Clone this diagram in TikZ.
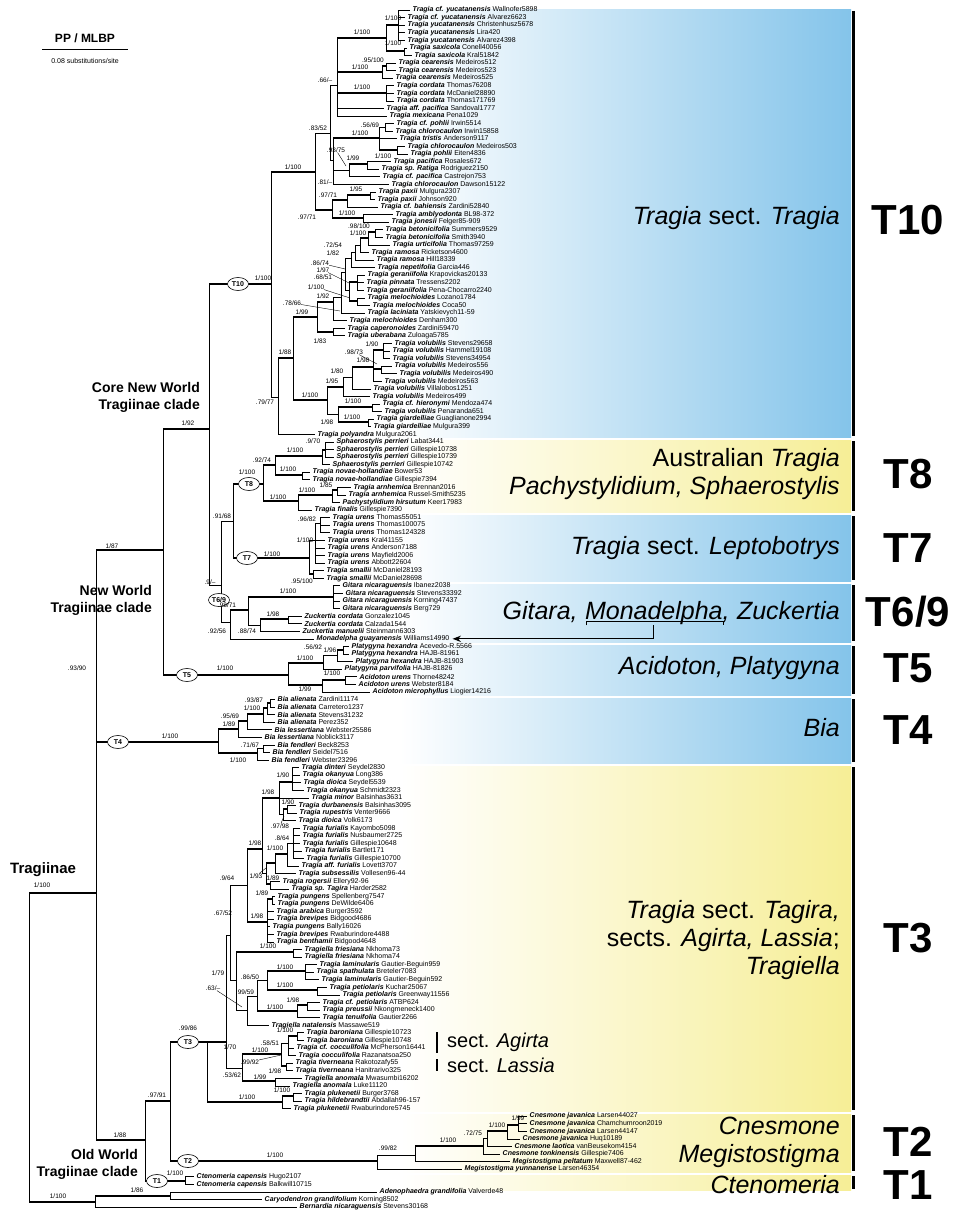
\documentclass[tikz,border=0pt]{standalone}
\usepackage{fontspec}
\setmainfont{Liberation Sans}
\usetikzlibrary{arrows.meta,shapes.geometric}
\definecolor{cladeblue}{RGB}{132,196,234}
\definecolor{cladeyellow}{RGB}{246,238,150}
\newcommand\clade[2]{\foreach \kid in {#2}{\draw[br] (#1) |- (\kid);}}

\begin{document}
\begin{tikzpicture}[x=1pt,y=-1pt,>=Stealth,
br/.style={line width=0.6pt},
bstem/.style={line width=2.8pt},
leader/.style={line width=0.4pt},
tiplab/.style={anchor=west,inner sep=0pt,font=\fontsize{7}{7.5}\selectfont},
sup/.style={inner sep=0pt,font=\fontsize{6.5}{7}\selectfont},
tnode/.style={ellipse,draw,fill=white,line width=0.6pt,inner sep=0pt,minimum width=21pt,minimum height=13pt,font=\bfseries\fontsize{7}{8}\selectfont},
grp/.style={anchor=east,inner sep=0pt,align=right,font=\fontsize{25}{28}\selectfont},
grpp/.style={anchor=base east,inner sep=0pt,font=\fontsize{25}{28}\selectfont},
sectlab/.style={anchor=west,inner sep=0pt,font=\fontsize{20}{22}\selectfont},
tlab/.style={inner sep=0pt,font=\bfseries\fontsize{42}{44}\selectfont},
cname/.style={inner sep=0pt,align=right,font=\bfseries\fontsize{14}{17}\selectfont}]

\useasboundingbox (0,0) rectangle (966,1212);

% clade bands and bars
\foreach \ya/\yb/\col in {10/437/cladeblue,440/512/cladeyellow,515/581/cladeblue,584/642/cladeblue,645/695/cladeblue,698/763/cladeblue,766/1111/cladeyellow,1114/1172/cladeyellow,1175/1190/cladeyellow}{
  \shade[left color=white,right color=\col] (400,\ya) rectangle (851,\yb);
  \draw[line width=3pt] (853,{\ya+1}) -- (853,{\yb-1});
}

% tips
\foreach \i/\x/\spn/\vch in {1/410/Tragia cf. yucatanensis/Wallnofer5898,
2/405/Tragia cf. yucatanensis/Alvarez6623,
3/405/Tragia yucatanensis/Christenhusz5678,
4/405/Tragia yucatanensis/Lira420,
5/405/Tragia yucatanensis/Alvarez4398,
6/407/Tragia saxicola/Conell40056,
7/412/Tragia saxicola/Kral51842,
8/396/Tragia cearensis/Medeiros512,
9/396/Tragia cearensis/Medeiros523,
10/393/Tragia cearensis/Medeiros525,
11/394/Tragia cordata/Thomas76208,
12/394/Tragia cordata/McDaniel28890,
13/394/Tragia cordata/Thomas171769,
14/384/Tragia aff. pacifica/Sandoval1777,
15/387/Tragia mexicana/Pena1029,
16/394/Tragia cf. pohlii/Irwin5514,
17/393/Tragia chlorocaulon/Irwin15858,
18/397/Tragia tristis/Anderson9117,
19/405/Tragia chlorocaulon/Medeiros503,
20/408/Tragia pohlii/Eiten4836,
21/391/Tragia pacifica/Rosales672,
22/379/Tragia sp. Ratiga/Rodriguez2150,
23/380/Tragia cf. pacifica/Castrejon753,
24/389/Tragia chlorocaulon/Dawson15122,
25/376/Tragia paxii/Mulgura2307,
26/375/Tragia paxii/Johnson920,
27/378/Tragia cf. bahiensis/Zardini52840,
28/393/Tragia amblyodonta/BL98-372,
29/389/Tragia jonesii/Felger85-909,
30/383/Tragia betonicifolia/Summers9529,
31/383/Tragia betonicifolia/Smith3940,
32/390/Tragia urticifolia/Thomas97259,
33/369/Tragia ramosa/Ricketson4600,
34/374/Tragia ramosa/Hill18339,
35/375/Tragia nepetifolia/Garcia446,
36/365/Tragia geraniifolia/Krapovickas20133,
37/364/Tragia pinnata/Tressens2202,
38/364/Tragia geraniifolia/Pena-Chocarro2240,
39/365/Tragia melochioides/Lozano1784,
40/370/Tragia melochioides/Coca50,
41/365/Tragia laciniata/Yatskievych11-59,
42/347/Tragia melochioides/Denham300,
43/345/Tragia caperonoides/Zardini59470,
44/345/Tragia uberabana/Zuloaga5785,
45/392/Tragia volubilis/Stevens29658,
46/390/Tragia volubilis/Hammel19108,
47/390/Tragia volubilis/Stevens34954,
48/392/Tragia volubilis/Medeiros556,
49/397/Tragia volubilis/Medeiros490,
50/382/Tragia volubilis/Medeiros563,
51/371/Tragia volubilis/Villalobos1251,
52/370/Tragia volubilis/Medeiros499,
53/380/Tragia cf. hieronymi/Mendoza474,
54/382/Tragia volubilis/Penaranda651,
55/374/Tragia giardelliae/Guaglianone2994,
56/371/Tragia giardelliae/Mulgura399,
57/315/Tragia polyandra/Mulgura2061,
58/334/Sphaerostylis perrieri/Labat3441,
59/334/Sphaerostylis perrieri/Gillespie10738,
60/334/Sphaerostylis perrieri/Gillespie10739,
61/330/Sphaerostylis perrieri/Gillespie10742,
62/310/Tragia novae-hollandiae/Bower53,
63/310/Tragia novae-hollandiae/Gillespie7394,
64/351/Tragia arnhemica/Brennan2016,
65/346/Tragia arnhemica/Russel-Smith5235,
66/340/Pachystylidium hirsutum/Keer17983,
67/312/Tragia finalis/Gillespie7390,
68/330/Tragia urens/Thomas55051,
69/330/Tragia urens/Thomas100075,
70/330/Tragia urens/Thomas124328,
71/325/Tragia urens/Kral41155,
72/325/Tragia urens/Anderson7188,
73/325/Tragia urens/Mayfield2006,
74/325/Tragia urens/Abbott22604,
75/324/Tragia smallii/McDaniel28193,
76/324/Tragia smallii/McDaniel28698,
77/340/Gitara nicaraguensis/Ibanez2038,
78/343/Gitara nicaraguensis/Stevens33392,
79/340/Gitara nicaraguensis/Korning47437,
80/340/Gitara nicaraguensis/Berg729,
81/302/Zuckertia cordata/Gonzalez1045,
82/302/Zuckertia cordata/Calzada1544,
83/300/Zuckertia manuelii/Steinmann6303,
84/314/Monadelpha guayanensis/Williams14990,
85/349/Platygyna hexandra/Acevedo-R.5566,
86/349/Platygyna hexandra/HAJB-81961,
87/353/Platygyna hexandra/HAJB-81903,
88/342/Platygyna parvifolia/HAJB-81826,
89/357/Acidoton urens/Thorne48242,
90/356/Acidoton urens/Webster8184,
91/370/Acidoton microphyllus/Liogier14216,
92/275/Bia alienata/Zardini11174,
93/275/Bia alienata/Carretero1237,
94/275/Bia alienata/Stevens31232,
95/275/Bia alienata/Perez352,
96/272/Bia lessertiana/Webster25586,
97/262/Bia lessertiana/Noblick3117,
98/275/Bia fendleri/Beck8253,
99/270/Bia fendleri/Seidel7516,
100/269/Bia fendleri/Webster23296,
101/299/Tragia dinteri/Seydel2830,
102/300/Tragia okanyua/Long386,
103/301/Tragia dioica/Seydel5539,
104/304/Tragia okanyua/Schmidt2323,
105/309/Tragia minor/Balsinhas3631,
106/296/Tragia durbanensis/Balsinhas3095,
107/297/Tragia rupestris/Venter9666,
108/296/Tragia dioica/Volk6173,
109/300/Tragia furialis/Kayombo5098,
110/300/Tragia furialis/Nusbaumer2725,
111/300/Tragia furialis/Gillespie10648,
112/302/Tragia furialis/Bartlet171,
113/304/Tragia furialis/Gillespie10700,
114/299/Tragia aff. furialis/Lovett3707,
115/296/Tragia subsessilis/Vollesen96-44,
116/280/Tragia rogersii/Ellery92-96,
117/289/Tragia sp. Tagira/Harder2582,
118/275/Tragia pungens/Spellenberg7547,
119/275/Tragia pungens/DeWilde6406,
120/274/Tragia arabica/Burger3592,
121/274/Tragia brevipes/Bidgood4686,
122/270/Tragia pungens/Bally16026,
123/274/Tragia brevipes/Rwaburindore4488,
124/274/Tragia benthamii/Bidgood4648,
125/302/Tragiella friesiana/Nkhoma73,
126/302/Tragiella friesiana/Nkhoma74,
127/317/Tragia laminularis/Gautier-Beguin959,
128/314/Tragia spathulata/Breteler7083,
129/319/Tragia laminularis/Gautier-Beguin592,
130/327/Tragia petiolaris/Kuchar25067,
131/340/Tragia petiolaris/Greenway11556,
132/320/Tragia cf. petiolaris/ATBP624,
133/320/Tragia preussii/Nkongmeneck1400,
134/320/Tragia tenuifolia/Gautier2266,
135/269/Tragiella natalensis/Massawe519,
136/304/Tragia baroniana/Gillespie10723,
137/304/Tragia baroniana/Gillespie10748,
138/294/Tragia cf. cocculifolia/McPherson16441,
139/296/Tragia cocculifolia/Razanatsoa250,
140/293/Tragia tiverneana/Rakotozafy55,
141/293/Tragia tiverneana/Hanitrarivo325,
142/302/Tragiella anomala/Mwasumbi16202,
143/290/Tragiella anomala/Luke11120,
144/302/Tragia plukenetii/Burger3768,
145/302/Tragia hildebrandtii/Abdallah96-157,
146/291/Tragia plukenetii/Rwaburindore5745,
147/527/Cnesmone javanica/Larsen44027,
148/527/Cnesmone javanica/Chamchumroon2019,
149/527/Cnesmone javanica/Larsen44147,
150/520/Cnesmone javanica/Huq10189,
151/512/Cnesmone laotica/vanBeusekom4154,
152/500/Cnesmone tonkinensis/Gillespie7406,
153/510/Megistostigma peltatum/Maxwell87-462,
154/462/Megistostigma yunnanense/Larsen46354,
155/194/Ctenomeria capensis/Hugo2107,
156/194/Ctenomeria capensis/Balkwill10715,
157/377/Adenophaedra grandifolia/Valverde48,
158/262/Caryodendron grandifolium/Korning8502,
159/297/Bernardia nicaraguensis/Stevens30168}{
  \coordinate (t\i) at (\x,{10+7.576*(\i-1)});
  \node[tiplab] (l\i) at ([xshift=2.5pt]t\i) {\textbf{\textit{\spn}}~\vch};
}

% internal nodes
\foreach \n/\x/\y in {ny1/398/25,ny2/404/51,ny3/386/38,nc1/386/66,nc2/382/72,nco/386/93,nB/337/85,
np1/385/127,np3/397/150,np/379/138,npa1/367/164,npa/349/170,n81/333/160,n83/330/133,
npx1/370/195,npx/347/200,nam/363/218,n97b/332/210,nX/315/172,
nbe1/375/232,nbe2/368/238,na1/360/245,na2/355/252,na3/351/258,nger/357/282,nmel/357/301,
n97/349/290,n86/345/272,n78/341/297,n92/333/302,n83b/333/332,n99/317/317,
n90/383/350,n98c/381/369,n98b/373/367,n80/352/377,n95/343/387,nhi/372/407,ngi/368/422,
n98d/338/414,nvol/327/400,n88/293/358,n79/278/397,nT10/271/284,
ns3/325/450,nsph/322/456,nnov/302/475,n92b/275/465,narn/337/490,npac/332/495,nfin/298/501,nT8/263/484,
n96/320/523,nu/315/540,nsm/313/574,nT7/309/558,n91/233/521,
ngit/333/597,nzc/288/619,n88z/260/625,n98/248/610,nT69/230/622,n9/221/585,ncore/209/429,
n96p/343/650,n56/337/655,nplat/323/663,naci/345/680,nacid/322/685,nT5/288/675,nNW/163/550,
nb93/270/703,nb100/267/708,nali/263/714,nb95/247/721,nb89/238/729,nb71/263/748,nfen/257/753,nT4/218/742,nNT/96/672,
n90a/292/782,ndr/287/809,n97c/283/814,n98e/279/798,nfur/293/843,n100f/287/854,nsubs/275/863,nrog/270/884,
n93f/266/873,n98f/262/849,npu/272/899,n98g/267/922,n9b/247/885,nfri/293/952,nlam/305/971,npet/317/990,
n86c/267/980,n98h/307/1005,n100h/297/1011,n99c/257/996,n63/247/1010,n79b/236/980,n67/230/935,
nbar/297/1036,n58/288/1043,ntiv/286/1066,n100k/281/1054,nano/275/1081,n53/242/1068,n70/226/1042,
npk2/293/1096,nplk/282/1102,nT3/207/1042,
n99j/518/1125,n100j/507/1131,n72j/487/1138,nCn/483/1146,nm/415/1155,nT2/377/1161,
n97o/170/1101,nT1/185/1181,nOW/145/1140,nTrag/96/893,nAC/170/1196,nout/95/1202,nroot/29/1050}
  \coordinate (\n) at (\x,\y);

% branches
\clade{ny1}{t1,t2,t3,t4,t5} \clade{ny2}{t6,t7} \clade{ny3}{ny1,ny2}
\clade{nc1}{t8,t9} \clade{nc2}{nc1,t10} \clade{nco}{t11,t12,t13}
\clade{nB}{ny3,nc2,nco,t14,t15}
\clade{np1}{t16,t17} \clade{np3}{t19,t20} \clade{np}{np1,t18,np3}
\clade{npa1}{t21,t22} \clade{npa}{npa1,t23} \clade{n81}{np,npa,t24} \clade{n83}{nB,n81}
\clade{npx1}{t25,t26} \clade{npx}{npx1,t27} \clade{nam}{t28,t29} \clade{n97b}{npx,nam}
\clade{nX}{n83,n97b}
\clade{nbe1}{t30,t31} \clade{nbe2}{nbe1,t32} \clade{na1}{nbe2,t33} \clade{na2}{na1,t34} \clade{na3}{na2,t35}
\clade{nger}{t36,t37,t38} \clade{nmel}{t39,t40} \clade{n97}{nger,nmel} \clade{n86}{na3,n97}
\clade{n78}{n86,t41} \clade{n92}{n78,t42} \clade{n83b}{t43,t44} \clade{n99}{n92,n83b}
\clade{n90}{t45,t46,t47} \clade{n98c}{t48,t49} \clade{n98b}{n90,n98c,t50} \clade{n80}{n98b,t51}
\clade{n95}{n80,t52} \clade{nhi}{t53,t54} \clade{ngi}{t55,t56} \clade{n98d}{nhi,ngi}
\clade{nvol}{n95,n98d} \clade{n88}{n99,nvol} \clade{n79}{n88,t57} \clade{nT10}{nX,n79}
\clade{ns3}{t58,t59,t60} \clade{nsph}{ns3,t61} \clade{nnov}{t62,t63} \clade{n92b}{nsph,nnov}
\clade{narn}{t64,t65} \clade{npac}{narn,t66} \clade{nfin}{npac,t67} \clade{nT8}{n92b,nfin}
\clade{n96}{t68,t69,t70} \clade{nu}{n96,t71,t72,t73,t74} \clade{nsm}{t75,t76} \clade{nT7}{nu,nsm}
\clade{n91}{nT8,nT7}
\clade{ngit}{t77,t78,t79,t80} \clade{nzc}{t81,t82} \clade{n88z}{nzc,t83} \clade{n98}{ngit,n88z}
\clade{nT69}{n98,t84} \clade{n9}{n91,nT69} \clade{ncore}{nT10,n9}
\clade{n96p}{t85,t86} \clade{n56}{n96p,t87} \clade{nplat}{n56,t88} \clade{naci}{t89,t90}
\clade{nacid}{naci,t91} \clade{nT5}{nplat,nacid} \clade{nNW}{ncore,nT5}
\clade{nb93}{t92,t93} \clade{nb100}{nb93,t94} \clade{nali}{nb100,t95} \clade{nb95}{nali,t96}
\clade{nb89}{nb95,t97} \clade{nb71}{t98,t99} \clade{nfen}{nb71,t100} \clade{nT4}{nb89,nfen}
\clade{nNT}{nNW,nT4}
\clade{n90a}{t101,t102,t103,t104} \clade{ndr}{t106,t107} \clade{n97c}{ndr,t108}
\clade{n98e}{n90a,t105,n97c} \clade{nfur}{t109,t110,t111,t112,t113} \clade{n100f}{nfur,t114}
\clade{nsubs}{n100f,t115} \clade{nrog}{t116,t117} \clade{n93f}{nsubs,nrog} \clade{n98f}{n98e,n93f}
\clade{npu}{t118,t119} \clade{n98g}{npu,t120,t121,t122,t123,t124} \clade{n9b}{n98f,n98g}
\clade{nfri}{t125,t126} \clade{nlam}{t127,t128,t129} \clade{npet}{t130,t131} \clade{n86c}{nlam,npet}
\clade{n98h}{t132,t133} \clade{n100h}{n98h,t134} \clade{n99c}{n86c,n100h} \clade{n63}{n99c,t135}
\clade{n79b}{nfri,n63} \clade{n67}{n9b,n79b}
\clade{nbar}{t136,t137} \clade{n58}{nbar,t138,t139} \clade{ntiv}{t140,t141} \clade{n100k}{n58,ntiv}
\clade{nano}{t142,t143} \clade{n53}{n100k,nano} \clade{n70}{n67,n53}
\clade{npk2}{t144,t145} \clade{nplk}{npk2,t146} \clade{nT3}{n70,nplk}
\clade{n99j}{t147,t148,t149} \clade{n100j}{n99j,t150} \clade{n72j}{n100j,t151} \clade{nCn}{n72j,t152}
\clade{nm}{nCn,t153} \clade{nT2}{nm,t154} \clade{n97o}{nT3,nT2}
\clade{nT1}{t155,t156} \clade{nOW}{n97o,nT1} \clade{nTrag}{nNT,nOW}
\clade{nAC}{t157,t158} \clade{nout}{nAC,t159} \clade{nroot}{nTrag,nout}

% well supported stems
\foreach \p/\c in {ny3/ny1,ny3/ny2,nc2/nc1,nB/ny3,nB/nc2,nB/nco,n81/np,np/np3,npa/npa1,nX/n97b,
n97b/npx,n97b/nam,npx/npx1,nT10/nX,nbe2/nbe1,na1/nbe2,n97/nger,n97/nmel,n99/n92,n99/n83b,
n88/n99,n88/nvol,n79/n88,n98b/n90,n98b/n98c,n80/n98b,nvol/n95,n98d/nhi,n98d/ngi,ncore/nT10,
nsph/ns3,n92b/nsph,n92b/nnov,nT8/n92b,nT8/nfin,nfin/npac,npac/narn,n91/nT8,n91/nT7,nT7/nsm,
n98/ngit,n88z/nzc,nT69/n98,nNW/ncore,n56/n96p,nT5/nplat,nT5/nacid,nacid/naci,nNW/nT5,nNT/nNW,
nb100/nb93,nali/nb100,nb95/nali,nb89/nb95,nT4/nb89,nT4/nfen,nNT/nT4,
n98e/n90a,n97c/ndr,n98f/n98e,nsubs/n100f,n93f/nsubs,n93f/nrog,n9b/n98f,n9b/n98g,n98g/npu,
n79b/nfri,n86c/nlam,n86c/npet,n99c/n100h,n100h/n98h,n58/nbar,n100k/ntiv,n53/n100k,n53/nano,
nT3/n70,nT3/nplk,nplk/npk2,n97o/nT3,n100j/n99j,n72j/n100j,nm/nCn,n97o/nT2,
nOW/n97o,nOW/nT1,nTrag/nOW,nroot/nTrag,nroot/nout,nout/nAC}
  \draw[bstem] (\p |- \c) -- (\c);

% clade tags
\node[tnode] (eT10) at (238,284) {T10};
\node[tnode] (eT8) at (249,484) {T8};
\node[tnode] (eT7) at (247,558) {T7};
\node[tnode] (eT69) at (219,600) {T6/9};
\node[tnode] (eT5) at (187,675) {T5};
\node[tnode] (eT4) at (118,742) {T4};
\node[tnode] (eT3) at (188,1042) {T3};
\node[tnode] (eT2) at (188,1161) {T2};
\node[tnode] (eT1) at (157,1181) {T1};

% support values
\foreach [count=\n] \x/\y/\t in {393/18/{1/100},393/43/{1/100},362/32/{1/100},373/60/{.95/100},
360/67/{1/100},362/87/{1/100},325/80/{.66/--},370/125/{.56/69},360/133/{1/100},383/156/{1/100},
318/128/{.83/52},336/150/{.93/75},353/158/{1/99},325/182/{.81/--},293/167/{1/100},356/189/{1/95},
328/195/{.97/71},347/213/{1/100},307/217/{.97/71},359/226/{.98/100},358/233/{1/100},333/245/{.72/54},
333/253/{1/82},320/263/{.86/74},323/270/{1/97},323/277/{.68/51},316/287/{1/100},292/303/{.78/66},
323/296/{1/92},302/312/{1/99},320/341/{1/83},285/352/{1/88},372/344/{1/90},354/352/{.98/73},
363/360/{1/98},337/371/{1/80},332/381/{1/95},310/395/{1/100},353/401/{1/100},265/402/{.79/77},
352/417/{1/100},327/422/{1/98},263/278/{1/100},188/423/{1/92},
313/441/{.9/70},295/450/{1/100},262/460/{.92/74},288/469/{1/100},247/472/{1/100},326/485/{1/85},
307/490/{1/100},278/497/{1/100},307/519/{.96/82},222/516/{.91/68},305/540/{1/100},272/554/{1/100},
302/581/{.95/100},210/582/{.9/--},288/591/{1/100},227/605/{.98/71},273/614/{1/98},247/631/{.88/74},
217/631/{.92/56},313/647/{.56/92},330/650/{1/96},305/658/{1/100},225/668/{1/100},332/673/{1/100},
305/689/{1/99},112/546/{1/87},254/700/{.93/87},252/708/{1/100},230/716/{.95/69},229/724/{1/89},
170/736/{1/100},250/745/{.71/67},238/760/{1/100},77/668/{.93/90},
283/775/{1/90},268/792/{1/98},288/802/{1/90},280/826/{.97/98},282/838/{.8/64},255/843/{1/98},
275/848/{1/100},256/876/{1/93},273/878/{1/89},227/878/{.9/64},262/893/{1/89},223/913/{.67/52},
257/916/{1/98},268/946/{1/100},285/967/{1/100},218/973/{1/79},250/977/{.86/50},285/985/{1/100},
213/988/{.63/--},245/992/{.99/59},293/1000/{1/98},275/1007/{1/100},285/1030/{1/100},188/1028/{.99/86},
270/1043/{.58/51},230/1047/{1/70},260/1050/{1/100},250/1062/{.99/92},275/1071/{1/98},232/1075/{.53/62},
260/1077/{1/99},282/1090/{1/100},247/1097/{1/100},157/1095/{.97/91},
518/1118/{1/99},497/1125/{1/100},473/1133/{.72/75},448/1140/{1/100},388/1148/{.99/82},275/1155/{1/100},
120/1135/{1/88},175/1173/{1/100},137/1190/{1/86},58/1196/{1/100},42/885/{1/100}}
  \node[sup] (s\n) at (\x,\y) {\t};

% leader lines from crowded values
\foreach \s/\x/\y in {12/346/166,24/345/269,25/349/283,27/350/298,28/340/311,34/377/364,
82/284/816,86/266/868,97/242/1007,106/281/1055}{
  \coordinate (ld\s) at (\x,\y);
  \draw[leader] (s\s) -- (ld\s);
}

% clade names on the left
\node[cname,anchor=east] (corenw) at (200,397) {Core New World\\Tragiinae clade};
\node[cname,anchor=east] (newworld) at (152,600) {New World\\Tragiinae clade};
\node[cname,anchor=east] (oldworld) at (138,1164) {Old World\\Tragiinae clade};
\node[cname,anchor=west,font=\bfseries\fontsize{15}{17}\selectfont] (tragiinae) at (10,870) {Tragiinae};

% scale
\node[inner sep=0pt,font=\bfseries\fontsize{12}{14}\selectfont] (ppml) at (85,38) {PP / MLBP};
\coordinate (sb1) at (42,50);
\coordinate (sb2) at (128,50);
\draw[line width=1pt] (sb1) -- (sb2);
\node[inner sep=0pt,font=\fontsize{7}{8}\selectfont] (sbl) at (85,61) {0.08 substitutions/site};

% group names
\node[grp] (gT10) at (840,218) {\textit{Tragia} sect. \textit{Tragia}};
\node[grp] (gT8) at (840,474) {Australian \textit{Tragia}\\\textit{Pachystylidium, Sphaerostylis}};
\node[grp] (gT7) at (840,548) {\textit{Tragia} sect. \textit{Leptobotrys}};
\node[grpp] (zuck) at (840,619) {\textit{Zuckertia}};
\node[grpp] (mona) at ([xshift=-7pt]zuck.base west) {\textit{Monadelpha,}};
\node[grpp] (gita) at ([xshift=-7pt]mona.base west) {\textit{Gitara,}};
\node[grp] (gT5) at (840,668) {\textit{Acidoton, Platygyna}};
\node[grp] (gT4) at (840,728) {\textit{Bia}};
\node[grp] (gT3) at (840,940) {\textit{Tragia} sect. \textit{Tagira,}\\sects. \textit{Agirta, Lassia};\\\textit{Tragiella}};
\node[grp] (gT2) at (840,1142) {\textit{Cnesmone}\\\textit{Megistostigma}};
\node[grp] (gT1) at (840,1185) {\textit{Ctenomeria}};

% Monadelpha pointer
\coordinate (mb1) at ([xshift=2pt,yshift=-1pt]mona.south west);
\coordinate (mb2) at ([xshift=-6pt,yshift=-1pt]mona.south east);
\draw[line width=0.8pt] (mb1) -- ++(0,-4) -| (mb2);
\draw[->,line width=1.2pt,shorten >=3pt] ([xshift=-4pt,yshift=-1pt]mona.south) |- (l84.east);

% sect. Agirta / Lassia
\draw[line width=1.5pt] (437,1032) -- (437,1053);
\draw[line width=1.5pt] (437,1059) -- (437,1071);
\node[sectlab] (agirta) at (447,1042) {sect. \textit{Agirta}};
\node[sectlab] (lassia) at (447,1065) {sect. \textit{Lassia}};

% T labels
\node[tlab] (T10) at (908,220) {T10};
\node[tlab] (T8) at (908,474) {T8};
\node[tlab] (T7) at (908,548) {T7};
\node[tlab] (T69) at (908,612) {T6/9};
\node[tlab] (T5) at (908,668) {T5};
\node[tlab] (T4) at (908,730) {T4};
\node[tlab] (T3) at (908,938) {T3};
\node[tlab] (T2) at (908,1142) {T2};
\node[tlab] (T1) at (908,1185) {T1};
\end{tikzpicture}
\end{document}
